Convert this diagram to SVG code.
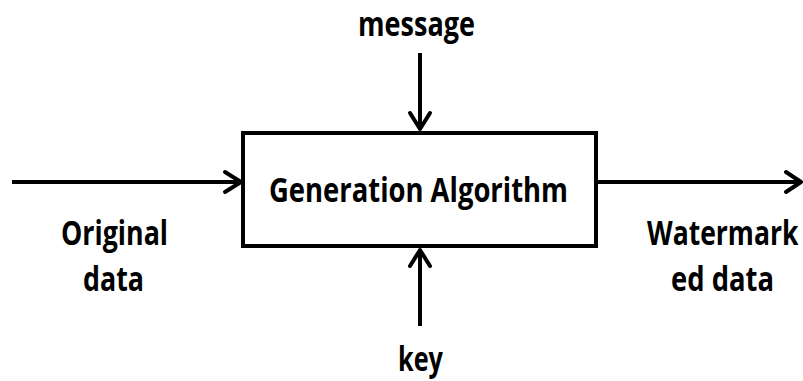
<svg xmlns="http://www.w3.org/2000/svg" width="803" height="381" viewBox="0 0 803 381">
<style>
.t{font-family:"Open Sans","Liberation Sans",sans-serif;font-weight:bold;font-size:34px;fill:#000}
.l{stroke:#000;stroke-width:4;fill:none}
.h{stroke:#000;stroke-width:4;fill:none;stroke-linecap:round;stroke-linejoin:round}
</style>
<rect width="803" height="381" fill="#fff"/>
<g id="connectors">
<line class="l" x1="12" y1="182" x2="241" y2="182"/>
<polyline class="h" points="225,172 241,182 225,192"/>
<line class="l" x1="598" y1="182" x2="801" y2="182"/>
<polyline class="h" points="786,172 801,182 786,192"/>
<line class="l" x1="420" y1="53" x2="420" y2="129"/>
<polyline class="h" points="410,113 420,129 430,113"/>
<line class="l" x1="420" y1="250" x2="420" y2="326"/>
<polyline class="h" points="410,266 420,250 430,266"/>
</g>
<g id="node-generation">
<rect x="243" y="133" width="353" height="113" fill="#fff" stroke="#000" stroke-width="4"/>
<text class="t" x="269" y="202" textLength="299" lengthAdjust="spacingAndGlyphs">Generation Algorithm</text>
</g>
<g id="label-message"><text class="t" x="358" y="36" textLength="117" lengthAdjust="spacingAndGlyphs">message</text></g>
<g id="label-key"><text class="t" x="398" y="371" textLength="45" lengthAdjust="spacingAndGlyphs">key</text></g>
<g id="label-original"><text class="t" x="61" y="245" textLength="107" lengthAdjust="spacingAndGlyphs">Original</text>
<text class="t" x="83" y="291" textLength="61" lengthAdjust="spacingAndGlyphs">data</text></g>
<g id="label-watermarked"><text class="t" transform="translate(647,245) scale(0.78,1)" x="0" y="0">Watermark</text>
<text class="t" x="671" y="291" textLength="103" lengthAdjust="spacingAndGlyphs">ed data</text></g>
</svg>
